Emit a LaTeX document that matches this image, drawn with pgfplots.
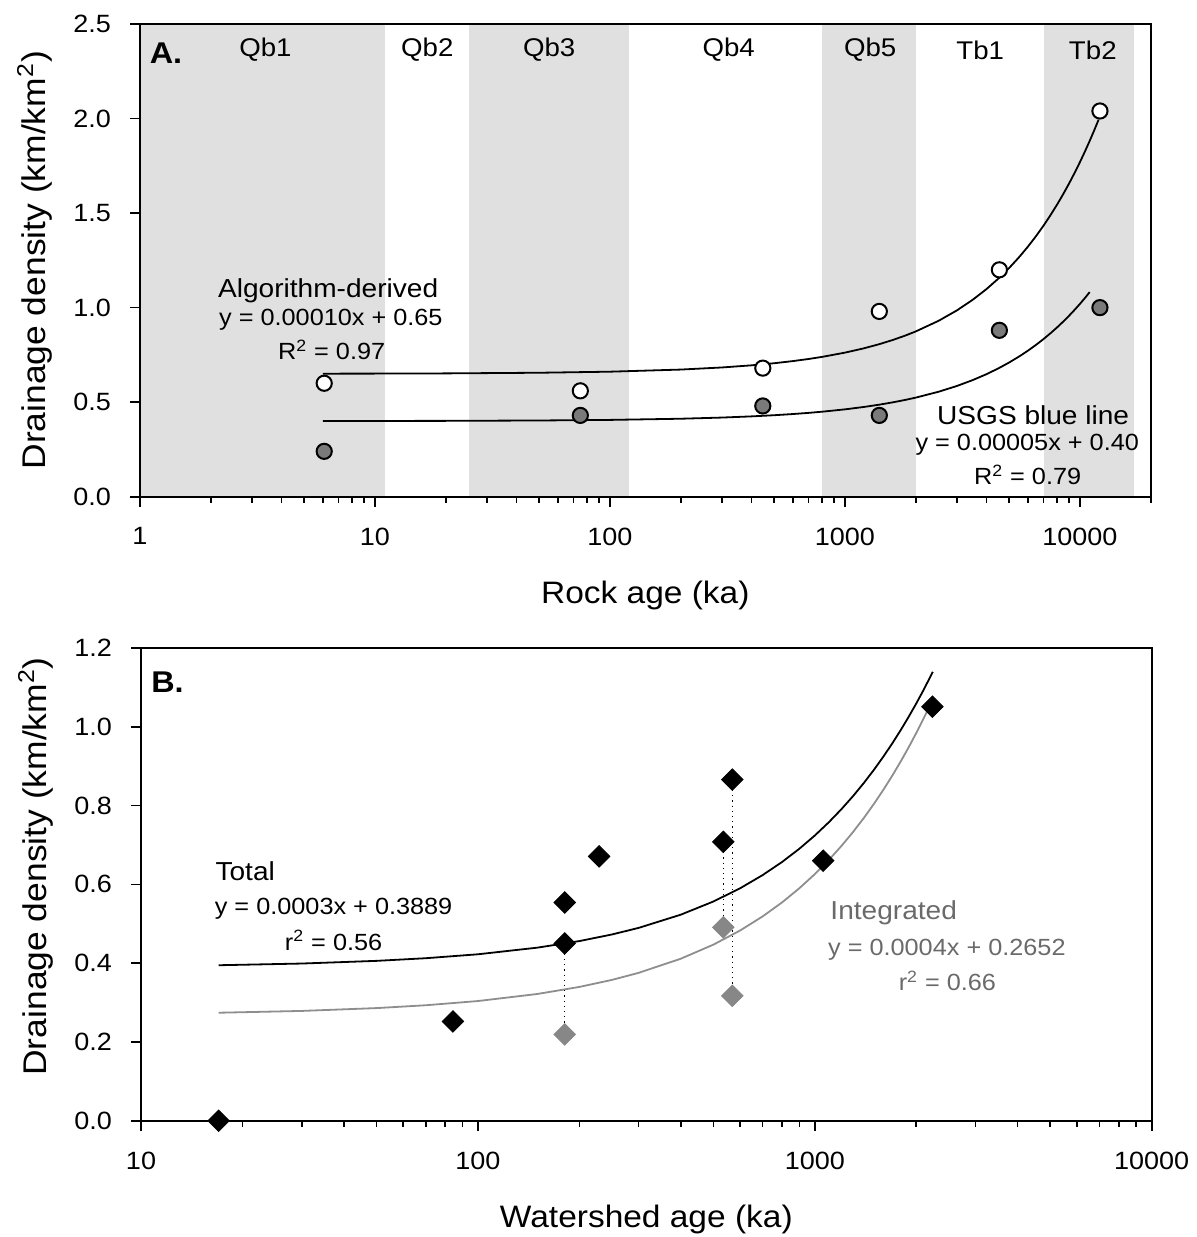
\documentclass[border=0pt]{standalone}
\usepackage{pgfplots}
\pgfplotsset{compat=1.18}
\usepackage{fontspec}
\setmainfont{Liberation Sans}[FakeStretch=1.08]

\definecolor{band}{HTML}{E0E0E0}
\definecolor{dotfill}{HTML}{7A7A7A}
\definecolor{diagray}{HTML}{878787}
\definecolor{fitgray}{HTML}{8E8E8E}
\definecolor{txtgray}{HTML}{6A6A6A}

\tikzset{
  ann/.style={font=\fontsize{13}{15}\selectfont, anchor=center, inner sep=0pt},
  eq/.style={font=\fontsize{11.7}{14}\selectfont, anchor=center, inner sep=0pt},
  unit/.style={font=\fontsize{12.8}{15}\selectfont, anchor=center, inner sep=0pt},
}

\begin{document}
\begin{tikzpicture}

% ---- A. rock age ----
\begin{axis}[
  at={(70pt,-248.35pt)}, anchor=south west,
  scale only axis, width=505.35pt, height=236.35pt,
  xmode=log, clip=false, axis on top,
  axis line style={line width=1pt},
  tick align=outside, xtick pos=bottom, ytick pos=left,
  major tick length=5pt, minor tick length=3pt,
  tick style={black, line width=0.8pt},
  tick label style={font=\fontsize{12.5}{15}\selectfont},
  xticklabel shift=7pt, yticklabel shift=6pt,
  yticklabel style={/pgf/number format/.cd, fixed, fixed zerofill, precision=1, assume math mode=true},
  xlabel style={font=\fontsize{15.5}{18}\selectfont, at={(axis description cs:0.5,0)}, anchor=center, yshift=-49.5pt},
  ylabel style={font=\fontsize{16.4}{19}\selectfont, at={(axis description cs:-0.104,0.5)}, anchor=center},
  xmin=1, xmax=20000, ymin=0, ymax=2.5,
  xtick={1,10,100,1000,10000}, xticklabels={1,10,100,1000,10000},
  minor xtick={2,3,4,5,6,7,8,9,20,30,40,50,60,70,80,90,200,300,400,500,600,700,800,900,2000,3000,4000,5000,6000,7000,8000,9000,20000},
  ytick={0,0.5,1,1.5,2,2.5},
  xlabel={Rock age (ka)},
  ylabel={Drainage density (km/km\textsuperscript{2})},
]
% map units (gray bands)
\addplot[fill=band, draw=none] coordinates {(1,2.5) (11,2.5)} \closedcycle;
\addplot[fill=band, draw=none] coordinates {(25,2.5) (120,2.5)} \closedcycle;
\addplot[fill=band, draw=none] coordinates {(800,2.5) (2000,2.5)} \closedcycle;
\addplot[fill=band, draw=none] coordinates {(7000,2.5) (17000,2.5)} \closedcycle;

% linear fits (curved on log axis)
\addplot[black, line width=0.9pt] coordinates {
  (6,0.6507)(10,0.6511)(20,0.6522)(50,0.6556)(100,0.6612)(200,0.6724)(300,0.6836)(400,0.6948)
  (500,0.706)(600,0.7172)(700,0.7284)(800,0.7396)(1000,0.762)(1200,0.7844)(1400,0.8068)
  (1600,0.8292)(1800,0.8516)(2000,0.874)(2500,0.930)(3000,0.986)(3500,1.042)(4000,1.098)
  (4500,1.154)(5000,1.210)(5500,1.266)(6000,1.322)(6500,1.378)(7000,1.434)(7500,1.490)
  (8000,1.546)(8500,1.602)(9000,1.658)(9500,1.714)(10000,1.770)(10500,1.826)(11000,1.882)
  (11500,1.938)(12000,1.994)};
\addplot[black, line width=0.9pt] coordinates {
  (6,0.4004)(10,0.4006)(20,0.4012)(50,0.4031)(100,0.4062)(200,0.4124)(300,0.4186)(400,0.4248)
  (500,0.431)(600,0.4372)(700,0.4434)(800,0.4496)(1000,0.462)(1200,0.4744)(1400,0.4868)
  (1600,0.4992)(1800,0.5116)(2000,0.524)(2500,0.555)(3000,0.586)(3500,0.617)(4000,0.648)
  (4500,0.679)(5000,0.710)(5500,0.741)(6000,0.772)(6500,0.803)(7000,0.834)(7500,0.865)
  (8000,0.896)(8500,0.927)(9000,0.958)(9500,0.989)(10000,1.020)(10500,1.051)(11000,1.082)};

% algorithm-derived (open) and USGS blue line (gray)
\addplot[only marks, mark=*, mark size=3.8pt, mark options={fill=white, draw=black, line width=1pt}]
  coordinates {(6.08,0.60)(74.8,0.56)(447,0.68)(1400,0.98)(4540,1.20)(12160,2.04)};
\addplot[only marks, mark=*, mark size=3.8pt, mark options={fill=dotfill, draw=black, line width=1pt}]
  coordinates {(6.08,0.24)(74.8,0.43)(447,0.48)(1400,0.43)(4540,0.88)(12160,1.00)};

\node[ann, font=\bfseries\fontsize{15}{18}\selectfont] at (axis cs:1.29,2.347) {A.};
\node[unit] at (axis cs:3.42,2.362) {Qb1};
\node[unit] at (axis cs:16.7,2.362) {Qb2};
\node[unit] at (axis cs:55.1,2.362) {Qb3};
\node[unit] at (axis cs:320,2.362) {Qb4};
\node[unit] at (axis cs:1280,2.362) {Qb5};
\node[unit] at (axis cs:3765,2.362) {Tb1};
\node[unit] at (axis cs:11340,2.362) {Tb2};

\node[ann] at (axis cs:6.32,1.09) {Algorithm-derived};
\node[eq] at (axis cs:6.49,0.935) {y = 0.00010x + 0.65};
\node[eq] at (axis cs:6.54,0.776) {R\textsuperscript{2} = 0.97};
\node[ann] at (axis cs:6320,0.432) {USGS blue line};
\node[eq] at (axis cs:5965,0.273) {y = 0.00005x + 0.40};
\node[eq] at (axis cs:5990,0.115) {R\textsuperscript{2} = 0.79};
\end{axis}

% ---- B. watershed age ----
\begin{axis}[
  at={(70.5pt,-560.35pt)}, anchor=south west,
  scale only axis, width=505.35pt, height=236.35pt,
  xmode=log, clip=false, axis on top,
  axis line style={line width=1pt},
  tick align=outside, xtick pos=bottom, ytick pos=left,
  major tick length=5pt, minor tick length=3pt,
  tick style={black, line width=0.8pt},
  tick label style={font=\fontsize{12.5}{15}\selectfont},
  xticklabel shift=7pt, yticklabel shift=6pt,
  yticklabel style={/pgf/number format/.cd, fixed, fixed zerofill, precision=1, assume math mode=true},
  xlabel style={font=\fontsize{15.5}{18}\selectfont, at={(axis description cs:0.5,0)}, anchor=center, yshift=-49.5pt},
  ylabel style={font=\fontsize{16.4}{19}\selectfont, at={(axis description cs:-0.104,0.538)}, anchor=center},
  xmin=10, xmax=10000, ymin=0, ymax=1.2,
  xtick={10,100,1000,10000}, xticklabels={10,100,1000,10000},
  minor xtick={20,30,40,50,60,70,80,90,200,300,400,500,600,700,800,900,2000,3000,4000,5000,6000,7000,8000,9000},
  ytick={0,0.2,0.4,0.6,0.8,1.0,1.2},
  xlabel={Watershed age (ka)},
  ylabel={Drainage density (km/km\textsuperscript{2})},
]
\addplot[black, line width=0.9pt] coordinates {
  (17,0.3947)(30,0.399)(50,0.4058)(70,0.4125)(100,0.4225)(150,0.4393)(200,0.456)(250,0.4728)
  (300,0.4895)(400,0.523)(500,0.5565)(600,0.590)(700,0.6235)(800,0.657)(900,0.6905)
  (1000,0.724)(1100,0.7575)(1200,0.791)(1300,0.8245)(1400,0.858)(1500,0.8915)(1600,0.925)
  (1700,0.9585)(1800,0.992)(1900,1.0255)(2000,1.059)(2100,1.0925)(2240,1.1394)};
\addplot[fitgray, line width=0.9pt] coordinates {
  (17,0.2741)(30,0.2787)(50,0.2859)(70,0.2931)(100,0.3038)(150,0.3217)(200,0.3396)(250,0.3575)
  (300,0.3754)(400,0.4112)(500,0.447)(600,0.4828)(700,0.5186)(800,0.5544)(900,0.5902)
  (1000,0.626)(1100,0.6618)(1200,0.6976)(1300,0.7334)(1400,0.7692)(1500,0.805)(1600,0.8408)
  (1700,0.8766)(1800,0.9124)(1900,0.9482)(2000,0.984)(2150,1.0377)};

\addplot[black, dotted, line width=0.6pt] coordinates {(181,0.450)(181,0.219)};
\addplot[black, dotted, line width=0.6pt] coordinates {(535,0.708)(535,0.491)};
\addplot[black, dotted, line width=0.6pt] coordinates {(569,0.866)(569,0.317)};

% integrated (gray) and total (black)
\addplot[only marks, mark=square*, mark size=3.8pt, mark options={rotate=45, fill=diagray, draw=diagray}]
  coordinates {(181,0.219)(535,0.491)(569,0.317)};
\addplot[only marks, mark=square*, mark size=3.8pt, mark options={rotate=45, fill=black, draw=black}]
  coordinates {(17,0)(84.3,0.252)(181,0.554)(181,0.450)(229,0.671)(535,0.708)(569,0.866)(1059,0.660)(2234,1.051)};

\node[ann, font=\bfseries\fontsize{15}{18}\selectfont] at (axis cs:11.99,1.114) {B.};
\node[ann, anchor=west] at (axis cs:16.6,0.633) {Total};
\node[eq] at (axis cs:37.3,0.537) {y = 0.0003x + 0.3889};
\node[eq] at (axis cs:37.3,0.458) {r\textsuperscript{2} = 0.56};
\node[ann, anchor=west, text=txtgray] at (axis cs:1110,0.529) {Integrated};
\node[eq, text=txtgray] at (axis cs:2466,0.434) {y = 0.0004x + 0.2652};
\node[eq, text=txtgray] at (axis cs:2475,0.355) {r\textsuperscript{2} = 0.66};
\end{axis}

\pgfresetboundingbox
\path (0,0) rectangle (598pt,-618.5pt);
\end{tikzpicture}
\end{document}
